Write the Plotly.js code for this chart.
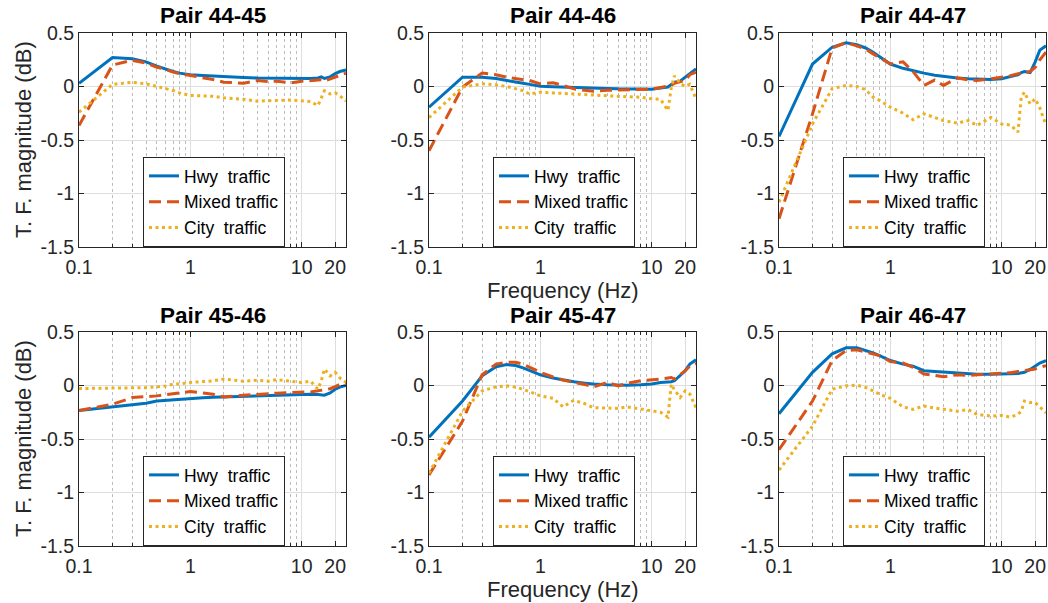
<!DOCTYPE html>
<html>
<head>
<meta charset="utf-8">
<script src="https://cdn.plot.ly/plotly-3.0.1.min.js"></script>
<style>html,body{margin:0;padding:0;background:#fff;}#chart{width:1048px;height:603px;}</style>
</head>
<body>
<div id="chart"></div>
<script>
// ---- data ----
const freq = [0.1,0.2,0.3,0.4,0.5,0.6,0.7,0.8,1,1.3,1.6,2,2.5,3,4,5,6,8,10,12,14,15,16,18,20,22,25];
const pairTitles = ["Pair 44-45","Pair 44-46","Pair 44-47","Pair 45-46","Pair 45-47","Pair 46-47"];
const seriesNames = ["Hwy\u00a0\u00a0traffic","Mixed traffic","City\u00a0\u00a0traffic"];

const hwy4445 = [0.03,0.27,0.26,0.23,0.19,0.16,0.14,0.125,0.11,0.103,0.097,0.093,0.088,0.085,0.08,0.078,0.076,0.073,0.072,0.075,0.08,0.09,0.075,0.09,0.12,0.14,0.155];
const mixed4445 = [-0.365,0.2,0.245,0.22,0.18,0.16,0.135,0.12,0.103,0.085,0.065,0.04,0.035,0.031,0.056,0.047,0.05,0.034,0.05,0.055,0.06,0.062,0.05,0.07,0.09,0.1,0.125];
const city4445 = [-0.24,0.02,0.04,0.025,0.0,-0.02,-0.037,-0.06,-0.084,-0.088,-0.092,-0.106,-0.11,-0.12,-0.137,-0.13,-0.13,-0.125,-0.13,-0.14,-0.178,-0.11,-0.04,-0.07,-0.06,-0.085,-0.137];

const hwy4446 = [-0.193,0.087,0.087,0.075,0.056,0.045,0.03,0.02,0.003,-0.002,-0.004,-0.006,-0.008,-0.01,-0.018,-0.022,-0.024,-0.025,-0.025,-0.015,-0.005,0.02,0.04,0.05,0.087,0.12,0.165];
const mixed4446 = [-0.6,-0.006,0.125,0.11,0.087,0.075,0.065,0.056,0.025,0.035,0.01,-0.022,-0.035,-0.044,-0.035,-0.031,-0.03,-0.028,-0.025,-0.01,0.0,0.01,0.03,0.04,0.056,0.11,0.134];
const city4446 = [-0.29,-0.006,0.025,0.015,0.0,-0.02,-0.04,-0.07,-0.053,-0.06,-0.065,-0.07,-0.08,-0.084,-0.088,-0.093,-0.096,-0.1,-0.115,-0.12,-0.224,-0.01,0.1,0.03,0.0,0.02,-0.115];

const hwy4447 = [-0.467,0.21,0.367,0.408,0.39,0.36,0.32,0.28,0.21,0.17,0.145,0.125,0.105,0.093,0.08,0.072,0.068,0.065,0.072,0.09,0.11,0.13,0.14,0.13,0.23,0.34,0.38];
const mixed4447 = [-1.236,-0.255,0.36,0.41,0.38,0.35,0.305,0.27,0.21,0.23,0.14,0.01,0.06,0.01,0.08,0.062,0.056,0.072,0.087,0.1,0.12,0.118,0.13,0.14,0.18,0.25,0.32];
const city4447 = [-1.08,-0.35,-0.02,0.01,0.0,-0.03,-0.1,-0.13,-0.193,-0.25,-0.31,-0.255,-0.29,-0.318,-0.343,-0.318,-0.364,-0.29,-0.35,-0.36,-0.427,-0.1,-0.053,-0.162,-0.115,-0.2,-0.364];

const hwy4546 = [-0.233,-0.2,-0.18,-0.165,-0.145,-0.138,-0.132,-0.127,-0.12,-0.115,-0.11,-0.107,-0.103,-0.1,-0.098,-0.097,-0.095,-0.09,-0.082,-0.082,-0.085,-0.088,-0.09,-0.07,-0.035,-0.015,0.0];
const mixed4546 = [-0.233,-0.176,-0.113,-0.107,-0.097,-0.085,-0.075,-0.066,-0.057,-0.07,-0.082,-0.107,-0.095,-0.091,-0.083,-0.075,-0.072,-0.066,-0.066,-0.06,-0.05,-0.044,-0.04,-0.03,-0.01,0.01,0.028];
const city4546 = [-0.028,-0.027,-0.025,-0.02,-0.013,-0.005,0.013,0.015,0.028,0.035,0.044,0.06,0.05,0.04,0.05,0.04,0.055,0.04,0.028,0.04,-0.035,0.045,0.154,0.09,0.123,0.07,0.03];

const hwy4547 = [-0.484,-0.145,0.091,0.176,0.195,0.186,0.165,0.138,0.1,0.07,0.05,0.035,0.022,0.013,0.006,0.003,0.003,0.008,0.015,0.028,0.03,0.035,0.044,0.09,0.138,0.2,0.24];
const mixed4547 = [-0.836,-0.333,0.1,0.2,0.217,0.217,0.2,0.17,0.123,0.08,0.05,0.028,0.01,-0.013,0.028,-0.003,0.02,0.044,0.05,0.06,0.07,0.075,0.06,0.1,0.138,0.18,0.208];
const city4547 = [-0.82,-0.24,-0.05,-0.013,-0.003,-0.015,-0.035,-0.06,-0.097,-0.12,-0.2,-0.138,-0.17,-0.207,-0.21,-0.214,-0.2,-0.22,-0.24,-0.25,-0.295,0.013,-0.04,-0.113,-0.05,-0.08,-0.207];

const hwy4647 = [-0.264,0.123,0.296,0.352,0.352,0.33,0.305,0.28,0.233,0.2,0.18,0.138,0.13,0.123,0.115,0.107,0.105,0.105,0.105,0.11,0.113,0.118,0.123,0.15,0.186,0.21,0.233];
const mixed4647 = [-0.6,-0.145,0.233,0.327,0.333,0.311,0.295,0.28,0.223,0.21,0.17,0.107,0.095,0.082,0.1,0.095,0.1,0.107,0.11,0.12,0.13,0.135,0.138,0.145,0.154,0.17,0.186];
const city4647 = [-0.79,-0.38,-0.035,-0.003,0.003,-0.019,-0.05,-0.082,-0.12,-0.2,-0.223,-0.192,-0.21,-0.223,-0.24,-0.225,-0.27,-0.286,-0.28,-0.296,-0.27,-0.24,-0.145,-0.16,-0.16,-0.2,-0.255];

const xTickVals = [0.1,1,10,20];
const xTickText = ["0.1","1","10","20"];
const xMinorVals = [0.2,0.3,0.4,0.5,0.6,0.7,0.8,0.9,2,3,4,5,6,7,8,9];
const yTickVals = [-1.5,-1,-0.5,0,0.5];
const yTickText = ["-1.5","-1","-0.5","0","0.5"];

const panels = [
  [hwy4445, mixed4445, city4445],
  [hwy4446, mixed4446, city4446],
  [hwy4447, mixed4447, city4447],
  [hwy4546, mixed4546, city4546],
  [hwy4547, mixed4547, city4547],
  [hwy4647, mixed4647, city4647]
];

// ---- layout geometry (pixels) ----
const W = 1048, H = 603;
const colLeft = [79, 429, 779];
const colW = 267;
const rowTop = [33, 332];
const rowH = 214;

const colors = ["#0072BD", "#D95319", "#EDB120"];
const dashes = ["solid", "12px,6px", "3px,3.5px"];
const FONT = "Liberation Sans, Arial, Helvetica, sans-serif";
const txt = "#262626";

const traces = [];
const layout = {
  width: W, height: H,
  margin: {l:0, r:0, t:0, b:0},
  paper_bgcolor: "#ffffff",
  plot_bgcolor: "#ffffff",
  font: {family: FONT, size: 19, color: txt},
  showlegend: true,
  annotations: []
};

panels.forEach((series, i) => {
  const r = Math.floor(i / 3), c = i % 3;
  const sfx = i === 0 ? "" : String(i + 1);
  const legName = "legend" + sfx;
  series.forEach((vals, s) => {
    traces.push({
      type: "scatter", mode: "lines",
      x: freq, y: vals,
      name: seriesNames[s],
      xaxis: "x" + sfx, yaxis: "y" + sfx,
      legend: legName,
      line: {color: colors[s], width: 3, dash: dashes[s]},
      hoverinfo: "skip"
    });
  });
  const x0 = colLeft[c] / W, x1 = (colLeft[c] + colW) / W;
  const y1 = 1 - rowTop[r] / H, y0 = 1 - (rowTop[r] + rowH) / H;
  layout["xaxis" + sfx] = {
    domain: [x0, x1], anchor: "y" + sfx,
    type: "log", range: [-1, Math.log10(25)],
    tickvals: xTickVals, ticktext: xTickText,
    ticks: "inside", ticklen: 5, tickcolor: txt, tickwidth: 1,
    ticklabelstandoff: 3,
    showline: true, linecolor: txt, linewidth: 1, mirror: "ticks",
    showgrid: true, gridcolor: "#dedede", gridwidth: 1,
    zeroline: false,
    tickfont: {family: FONT, size: 19.5, color: txt},
    minor: {tickvals: xMinorVals, ticks: "inside", ticklen: 3, tickcolor: txt,
            showgrid: true, gridcolor: "#bdbdbd", griddash: "dot", gridwidth: 1},
    fixedrange: true
  };
  layout["yaxis" + sfx] = {
    domain: [y0, y1], anchor: "x" + sfx,
    range: [-1.5, 0.5],
    tickvals: yTickVals, ticktext: yTickText,
    ticks: "inside", ticklen: 5, tickcolor: txt, tickwidth: 1,
    showline: true, linecolor: txt, linewidth: 1, mirror: "ticks",
    showgrid: true, gridcolor: "#dedede", gridwidth: 1,
    zeroline: false,
    tickfont: {family: FONT, size: 19.5, color: txt},
    fixedrange: true
  };
  layout[legName] = {
    x: (colLeft[c] + 64) / W, y: 1 - (rowTop[r] + 124) / H,
    xanchor: "left", yanchor: "top",
    bgcolor: "#ffffff", bordercolor: "#262626", borderwidth: 1,
    font: {family: FONT, size: 17.5, color: "#000000"},
    tracegroupgap: 0, itemwidth: 30,
    itemclick: false, itemdoubleclick: false
  };
  // panel titles
  layout.annotations.push({
    xref: "paper", yref: "paper",
    x: (colLeft[c] + colW / 2) / W, y: 1 - (rowTop[r] - 17) / H,
    xanchor: "center", yanchor: "middle", showarrow: false,
    text: "<b>" + pairTitles[i] + "</b>",
    font: {family: FONT, size: 22.5, color: "#000000"}
  });
});

// axis titles
[0, 1].forEach(r => {
  layout.annotations.push({
    xref: "paper", yref: "paper",
    x: (colLeft[1] + colW / 2) / W, y: 1 - (rowTop[r] + rowH + 43) / H,
    xanchor: "center", yanchor: "middle", showarrow: false,
    text: "Frequency (Hz)",
    font: {family: FONT, size: 22, color: txt}
  });
  layout.annotations.push({
    xref: "paper", yref: "paper",
    x: 23 / W, y: 1 - (rowTop[r] + rowH / 2) / H,
    xanchor: "center", yanchor: "middle", showarrow: false,
    textangle: -90,
    text: "T. F. magnitude (dB)",
    font: {family: FONT, size: 22, color: txt}
  });
});

Plotly.newPlot("chart", traces, layout, {displayModeBar: false, staticPlot: true});
</script>
</body>
</html>
